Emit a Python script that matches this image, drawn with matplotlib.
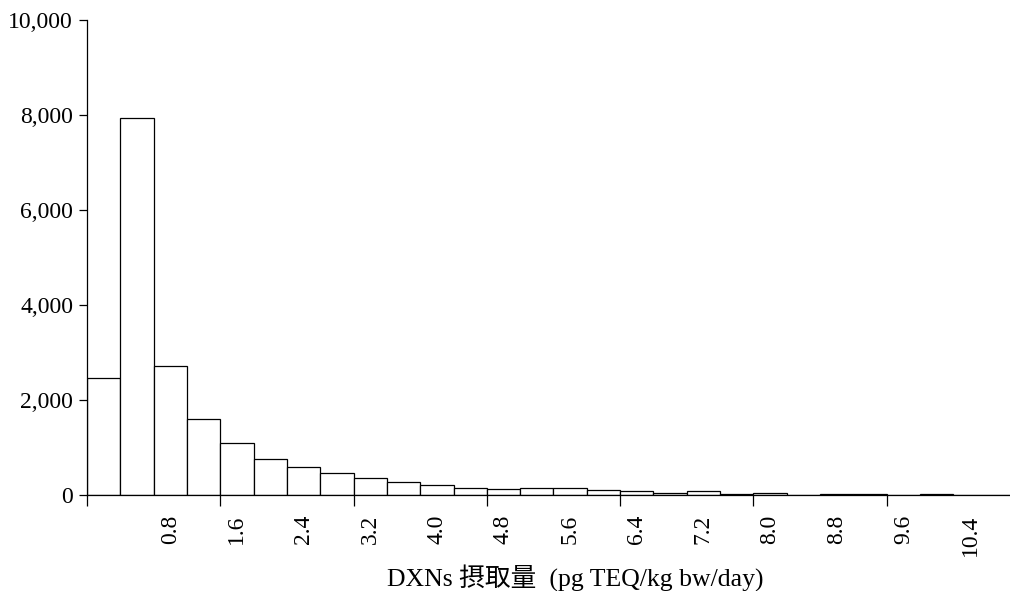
import numpy as np
import matplotlib
matplotlib.use("Agg")
import matplotlib.pyplot as plt

# 度数 (0.4刻みの階級ごと)
counts = [2470, 7930, 2720, 1600, 1100, 750, 600, 470, 350, 265,
          215, 140, 135, 140, 140, 105, 80, 50, 80, 30,
          35, 10, 20, 20, 8, 25, 5, 5]
bin_width = 0.4
label_idx = list(range(2, 27, 2))
label_txt = ["%.1f" % (i * bin_width) for i in label_idx]
y_ticks = [0, 2000, 4000, 6000, 8000, 10000]
xlabel = "DXNs 摂取量  (pg TEQ/kg bw/day)"

fam = ["Liberation Serif", "Noto Sans CJK JP"]
plt.rcParams['font.family'] = fam

fig = plt.figure(figsize=(10.10, 5.91), dpi=100)
ax = fig.add_axes([0.0861, 0.1624, 0.9139, 0.8037])

x = np.arange(len(counts))
ax.bar(x, counts, width=1.0, color="white", edgecolor="black", linewidth=0.9)

ax.set_xlim(-0.5, 27.2)
ax.set_ylim(0, 10000)

ax.set_xticks(label_idx)
ax.set_xticklabels(label_txt, rotation=90, fontsize=17)
ax.set_xticks(np.arange(-0.5, 27.5, 4), minor=True)
ax.tick_params(axis="x", which="major", length=0, pad=14)
ax.tick_params(axis="x", which="minor", length=8, width=0.9, direction="out")

ax.set_yticks(y_ticks)
ax.set_yticklabels(["{:,}".format(v) for v in y_ticks], fontsize=17)
ax.tick_params(axis="y", length=6, width=0.9, direction="out", pad=4)

for s in ["top", "right"]:
    ax.spines[s].set_visible(False)
for s in ["left", "bottom"]:
    ax.spines[s].set_linewidth(0.9)

ax.set_xlabel(xlabel, fontsize=18.5)
ax.xaxis.set_label_coords((575 - 87) / 923.0, -(578 - 495) / 475.0)
ax.xaxis.label.set_va("center")

fig.savefig("out.png", dpi=100, facecolor="white")
